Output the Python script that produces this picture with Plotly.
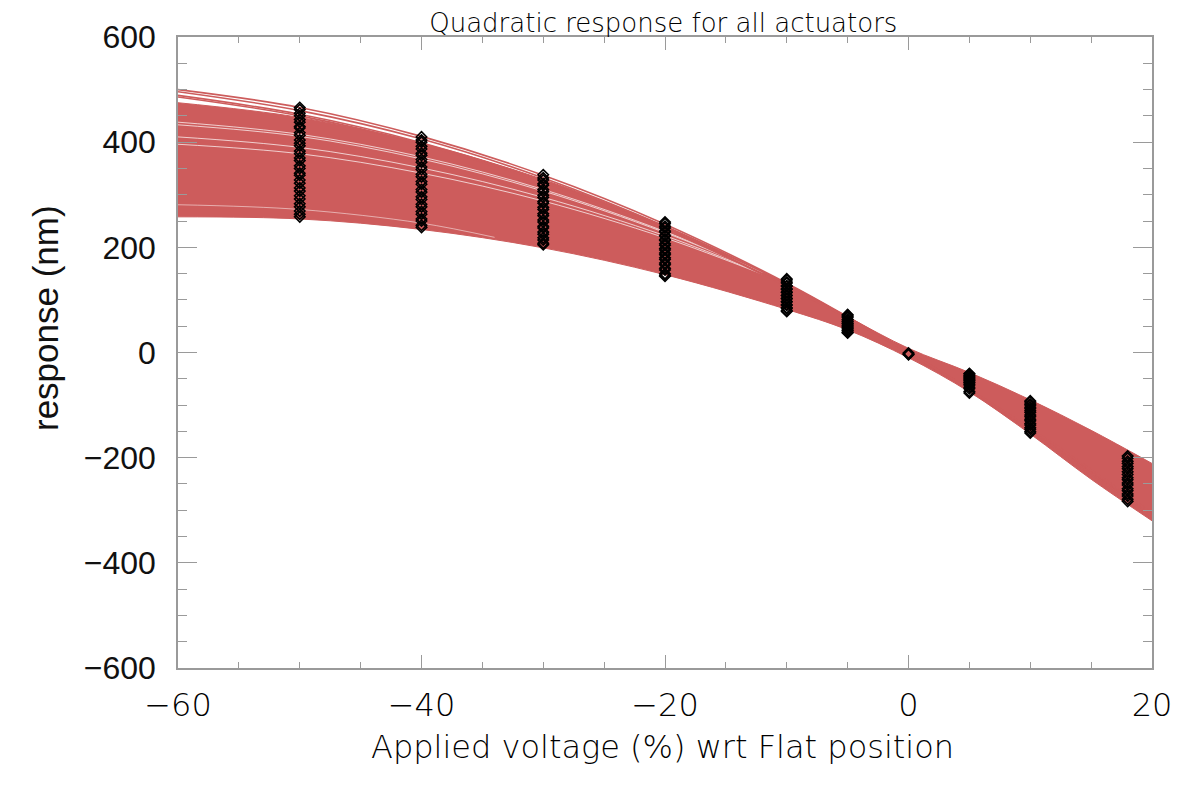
import plotly.graph_objects as go

# ── Fitted response band (nm) sampled at these voltages ──────────────────────
volt_grid = [-60, -50, -40, -30, -20, -10, -5, 0, 5, 10, 15, 20]
band_upper = [475, 447, 398, 329, 240, 131, 68, 8, -38, -90, -148, -211]
band_lower = [258, 254, 234, 199, 148, 82, 43, -10, -75, -155, -241, -320]

# a few actuators that sit above the bulk on the left
outlier_1 = [500, 466, 411, 337, 244, 132, 68, 0, -72, -150, -232, -318]
outlier_2 = [496, 460, 406, 332, 240, 130, 67, 0, -72, -148, -229, -315]
outlier_3 = [489, 453, 399, 327, 236, 127, 66, 0, -70, -146, -225, -310]
outlier_4 = [486, 450, 396, 324, 234, 126, 65, 0, -70, -144, -223, -306]

# thin gaps between neighbouring fits (left part of the band)
gap_upper_volt = [-60, -50, -40, -30, -20, -12]
gap_1 = [438, 415, 372, 310, 230, 153]
gap_2 = [433, 411, 368, 307, 228, 152]
gap_3 = [410, 390, 351, 295, 222, 150]
gap_4 = [396, 378, 341, 288, 218, 149]
gap_lower_volt = [-60, -50, -40, -34]
gap_5 = [281, 272, 246, 219]

# ── Measured responses (nm) per applied voltage ──────────────────────────────
meas_m50 = [466, 462, 455, 450, 443, 438, 430, 427, 418, 413, 404, 398, 393, 383,
            378, 370, 365, 355, 350, 341, 337, 328, 322, 313, 307, 298, 292, 283,
            277, 269, 263, 258]
meas_m40 = [410, 404, 400, 392, 387, 379, 375, 367, 362, 353, 348, 339, 334, 325,
            320, 310, 305, 296, 291, 282, 277, 268, 263, 254, 250, 242, 238]
meas_m30 = [338, 332, 328, 321, 318, 310, 306, 299, 295, 287, 284, 276, 272, 264,
            260, 252, 248, 240, 237, 229, 225, 218, 214, 208, 205]
meas_m20 = [248, 245, 240, 237, 231, 229, 223, 221, 215, 213, 207, 204, 198, 195,
            189, 186, 180, 177, 170, 167, 160, 157, 150, 147, 145]
meas_m10 = [140, 138, 134, 132, 127, 126, 121, 120, 115, 114, 109, 108, 103, 102,
            97, 96, 91, 90, 85, 84, 80, 78]
meas_m5 = [72, 71, 68, 67, 63, 62, 59, 58, 55, 54, 51, 50, 47, 46, 43, 42, 39, 38, 37]
meas_0 = [-1, -3, -4]
meas_p5 = [-40, -41, -44, -45, -48, -49, -52, -53, -56, -57, -60, -62, -66, -69,
           -74, -77]
meas_p10 = [-92, -94, -98, -100, -104, -107, -111, -114, -119, -122, -127, -130,
            -135, -138, -143, -146, -150, -153]
meas_p18 = [-197, -201, -207, -211, -217, -221, -227, -232, -238, -242, -248, -252,
            -259, -263, -269, -273, -279, -283]

measured = {
    -50: meas_m50, -40: meas_m40, -30: meas_m30, -20: meas_m20, -10: meas_m10,
    -5: meas_m5, 0: meas_0, 5: meas_p5, 10: meas_p10, 18: meas_p18,
}

RED = "#CD5C5C"
AXIS_GREY = "#9a9a9a"
THIN = "DejaVu Sans, Liberation Sans, sans-serif"
HELV = "Liberation Sans, Arial, sans-serif"

fig = go.Figure()

# ── Band of quadratic fits ───────────────────────────────────────────────────
fig.add_trace(go.Scatter(
    x=volt_grid, y=band_lower, mode="lines",
    line=dict(color=RED, width=1, shape="spline"),
    showlegend=False, hoverinfo="skip",
))
fig.add_trace(go.Scatter(
    x=volt_grid, y=band_upper, mode="lines",
    line=dict(color=RED, width=1, shape="spline"),
    fill="tonexty", fillcolor=RED,
    showlegend=False, hoverinfo="skip",
))

for g in (gap_1, gap_2, gap_3, gap_4):
    fig.add_trace(go.Scatter(
        x=gap_upper_volt, y=g, mode="lines",
        line=dict(color="rgba(255,255,255,0.7)", width=1, shape="spline"),
        showlegend=False, hoverinfo="skip",
    ))
fig.add_trace(go.Scatter(
    x=gap_lower_volt, y=gap_5, mode="lines",
    line=dict(color="rgba(255,255,255,0.5)", width=1, shape="spline"),
    showlegend=False, hoverinfo="skip",
))

for o in (outlier_1, outlier_2, outlier_3, outlier_4):
    fig.add_trace(go.Scatter(
        x=volt_grid, y=o, mode="lines",
        line=dict(color=RED, width=1.6, shape="spline"),
        showlegend=False, hoverinfo="skip",
    ))

# ── Measurements ─────────────────────────────────────────────────────────────
mx, my = [], []
for v, vals in measured.items():
    mx += [v] * len(vals)
    my += vals

fig.add_trace(go.Scatter(
    x=mx, y=my, mode="markers",
    marker=dict(symbol="diamond-open", size=8, color="black",
                line=dict(color="black", width=1.6)),
    showlegend=False,
))

# ── Layout (page body adds an 8px margin) ────────────────────────────────────
W, H = 1165, 770
fig.update_layout(
    width=W, height=H,
    margin=dict(l=170, r=21, t=29, b=110),
    plot_bgcolor="white", paper_bgcolor="white",
    title=dict(
        text="Quadratic response for all actuators",
        x=0.5625, xanchor="center", y=1 - 15 / H, yanchor="middle",
        font=dict(family=THIN, size=26, color="black", weight=200),
        automargin=False,
    ),
)

fig.update_xaxes(
    range=[-60, 20], tick0=-60, dtick=20, automargin=False,
    ticks="inside", ticklen=13, tickwidth=1, tickcolor=AXIS_GREY,
    minor=dict(dtick=5, ticks="inside", ticklen=6, tickcolor=AXIS_GREY, tickwidth=1),
    showline=True, linecolor=AXIS_GREY, linewidth=1.5, mirror="allticks",
    showgrid=False, zeroline=False,
    tickfont=dict(family=THIN, size=32, color="black", weight=200),
    ticklabelstandoff=8,
)
fig.update_yaxes(
    range=[-600, 600], tick0=-600, dtick=200, automargin=False,
    ticks="inside", ticklen=19, tickwidth=1, tickcolor=AXIS_GREY,
    minor=dict(dtick=50, ticks="inside", ticklen=9, tickcolor=AXIS_GREY, tickwidth=1),
    showline=True, linecolor=AXIS_GREY, linewidth=1.5, mirror="allticks",
    showgrid=False, zeroline=False,
    tickfont=dict(family=HELV, size=32, color="#111111"),
    ticklabelstandoff=14,
)

fig.add_annotation(
    text="Applied voltage (%) wrt Flat position",
    xref="paper", yref="paper", x=0.497, y=-(747 - 668) / 631,
    xanchor="center", yanchor="middle", showarrow=False,
    font=dict(family=THIN, size=32, color="black", weight=200),
)
fig.add_annotation(
    text="response (nm)",
    xref="paper", yref="paper", x=(45 - 178) / 974, y=(668 - 318) / 631,
    xanchor="center", yanchor="middle", textangle=-90, showarrow=False,
    font=dict(family=HELV, size=35, color="#111111"),
)

fig.write_html("out.html")
